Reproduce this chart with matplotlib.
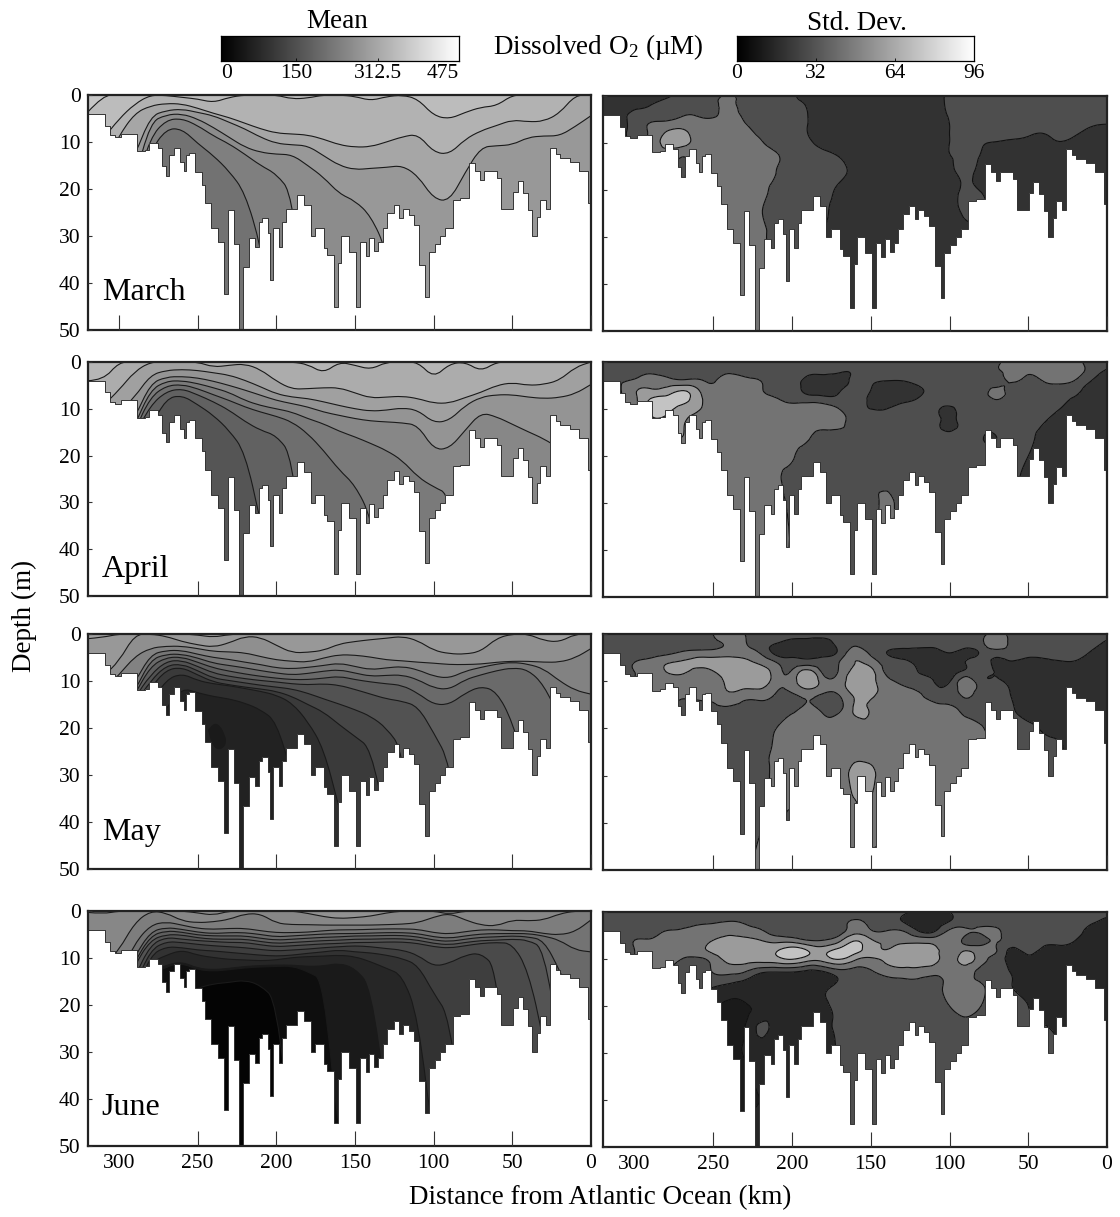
import numpy as np
import matplotlib
matplotlib.use("Agg")
import matplotlib.pyplot as plt
import matplotlib.tri as mtri
from matplotlib.path import Path
from matplotlib.patches import PathPatch

plt.rcParams["font.family"] = ["Liberation Serif", "DejaVu Serif"]
plt.rcParams["mathtext.fontset"] = "custom"
plt.rcParams["mathtext.rm"] = "Liberation Serif"
plt.rcParams["mathtext.default"] = "regular"

W, H = 1120, 1217
months = ["March", "April", "May", "June"]
month_label_depth = [43.6, 46, 43.8, 43.4]
x_ticks = [0, 50, 100, 150, 200, 250, 300]
y_ticks = [0, 10, 20, 30, 40, 50]

# section columns (km from the Atlantic) and depth rows for the std. dev. grids
station_km = [320, 310, 300, 290, 280, 270, 260, 250, 240, 230, 220, 210, 200, 190, 180, 170, 160,
              150, 140, 130, 120, 110, 100, 90, 80, 70, 60, 50, 40, 30, 20, 10, 0]
sd_depth = [0, 2, 4, 6, 8, 10, 13, 16, 20, 25, 30, 50]

# channel bed, step edges (km) and depth of each step (m)
bed_km = [320, 309, 305.9, 302.7, 298.5, 288.6, 283.7, 280.6, 275.3, 272.5, 270.4, 267.9, 265.1, 260.9,
          258.8, 257.3, 255.2, 251.6, 247.4, 245.1, 241.5, 237.3, 233.1, 230.5, 227.1, 223.6, 221, 217.6,
          213.4, 211.3, 209.2, 205.6, 204.1, 202, 198.6, 196.1, 194, 186.6, 182.4, 178.2, 175.4, 169.7,
          167.6, 163.4, 160.6, 158.8, 153.5, 149.3, 146.5, 143.3, 141.2, 137.8, 135.3, 132.4, 129.6,
          125.4, 122.2, 119.7, 115.9, 112.7, 109.1, 105.3, 103.2, 99.4, 95.8, 92.7, 88, 83.2, 77.5, 73.7,
          70.5, 67.8, 60, 57.2, 49.8, 46.7, 43.1, 39.9, 37.4, 34.6, 32.5, 28.7, 26.2, 22, 19.4, 13.5, 7.6,
          2, 0]
bed_depth = [4, 6.5, 8.5, 9, 8.2, 12, 11.7, 10.3, 11.3, 15.2, 17.2, 12.8, 11.3, 14.3, 16.2, 12.8, 12.4,
             16.3, 19.1, 23, 28.4, 31.2, 42.3, 24.5, 31.6, 50, 36.5, 30.5, 32.3, 27, 26.2, 29.4, 39.4,
             28.4, 32.3, 27, 24.3, 21.3, 23.4, 30.1, 28.4, 32.6, 34, 45.2, 35.8, 30.1, 33.3, 45.2, 31.3,
             34.3, 30.4, 33.2, 31.2, 28.4, 25.2, 23.3, 26.1, 24.3, 25.5, 27.7, 36.2, 42.9, 33.3, 31.6,
             30.1, 28.4, 22.3, 22, 14.5, 16.2, 18.1, 16.2, 17.7, 24.3, 20.6, 18.4, 20.9, 24.5, 30.1, 25.9,
             22.3, 24.3, 11.3, 12.6, 13.5, 14.3, 16.2, 23]

# mean O2: depth (m) of each isopleth at every station, shallowest isopleth first
march_iso = [
    [3.7] + [0] * 32,
    [12, 9.3, 5.1, 1.9, 0, .1, .5, .85, 1.6, .5, 0, 0, 0, .85, .65, 0, 0, .3, 1.2, .35, 0, .85, 4.4, 5.1, 3.7, 2.6, 2.3] + [0] * 6,
    [20, 15, 8.7, 3.9, 2.3, 1.8, 1.9, 2.8, 3.9, 4.8, 6, 7.2, 8.1, 8.3, 8.5, 9.4, 10.6, 11.1, 11, 10, 8.9, 8.3, 12.2, 12.6, 9.4, 7.6, 6.5, 5.3, 5.7, 5.6, 3.9, 0, 0],
    [25, 20, 18, 13, 4.5, 3.3, 3, 3.7, 4.4, 5.8, 7.2, 9, 10.3, 10.6, 10.8, 12.9, 15, 15.9, 15.6, 15.4, 15, 17.2, 22.1, 22.6, 16.5, 11.1, 10.8, 10.6, 9, 8.7, 8.7, 6.7, 4.4],
    [30, 25, 22, 18, 5.8, 4.2, 4, 5.1, 6.9, 9, 11.1, 12.2, 12.6, 12.7, 15, 17.5, 21, 22.5, 25.7, 33] + [50] * 13,
    [35, 30, 25, 20, 9, 5.3, 5, 6.5, 8.7, 10.4, 12.6, 15, 16.8, 21] + [50] * 19,
    [40, 35, 30, 25, 12, 7.2, 7.2, 10.3, 12.9, 16.2, 20.7, 32] + [50] * 21,
]
april_iso = [
    [4, 3.9] + [0] * 12 + [.5, 2.4, 0, .7, 1.6, 0, 0, 0, 3.4, .4, 0, 2] + [0] * 7,
    [12, 9.3, 6, 2, 0, 0, 0, 0, 1.1, .7, .4, 1.6, 4.1, 5.8, 5.7, 5.5, 5.5, 6.6, 7.7, 7.5, 7.3, 7.8, 8.8, 8.8, 7.6, 6.5, 5, 4.4, 5, 4.8, 3.9, 1.1, 0],
    [20, 16, 10.7, 7.5, 2.8, 1.8, 1.6, 1.8, 2.3, 2.8, 3.9, 5.3, 6.8, 7.5, 7.8, 8.5, 9.3, 10, 10.5, 10.3, 9.8, 10.3, 13, 12.5, 9.3, 7.5, 7, 7, 7.5, 7.8, 7.6, 6.8, 4.8],
    [25, 20, 16, 12, 4.6, 3.2, 3.1, 3.4, 4.1, 5, 6, 7.1, 8.2, 8.9, 9.6, 10.7, 11.4, 12.1, 12.6, 12.8, 13, 13.5, 18.7, 18.5, 14.6, 10.8, 11.7, 13.3, 14.9, 16.4, 18.5, 22, 25],
    [30, 25, 20, 13.5, 6, 4.1, 4, 4.6, 5.5, 6.5, 8.2, 9.3, 10, 10.7, 12.1, 13.2, 14.8, 16, 17.4, 18.9, 21, 24.6, 26.7, 28.3] + [50] * 9,
    [35, 30, 25, 14.6, 7.5, 5.1, 4.8, 5.7, 7, 8.2, 9.6, 10.7, 11.6, 12.8, 15.3, 18.9, 23.1, 26.3, 33] + [50] * 14,
    [40, 35, 30, 15.7, 9.3, 6.3, 5.7, 7, 8.5, 10.3, 12.7, 14.6, 15.7, 20] + [50] * 19,
    [45, 40, 35, 25, 14, 7.8, 7.1, 9.1, 11.4, 14.6, 19.2, 34] + [50] * 21,
]
may_iso = [
    [1, .7, 0, 0, 0, 0, 0, .2, .7, .1] + [0] * 19 + [1.4, 1.7, 0, 0],
    [10, 9, 5.8, .1, 0, .5, 1.6, 2.3, 2.8, 1.9, .5, .7, 2.4, 4, 3.9, 3.5, 2.1, 1.6, 1.2, .9, .5, 1.4, 3.5, 4.2, 4.3, 3.7, .9] + [0] * 6,
    [16, 12, 8.7, 4.8, 3, 2.6, 2.6, 3.1, 3.7, 3.8, 4, 4.8, 5.5, 5.8, 6, 5.1, 4.4, 4.5, 4.9, 5.5, 5.7, 6, 6.2, 6.5, 6.5, 6.4, 6, 5.8, 5.8, 6, 6, 5.1, 3.1],
    [20, 16, 14, 10.4, 4.4, 3.5, 3.5, 4.3, 5, 5.4, 6, 6.5, 7.2, 7.4, 7.1, 6.7, 6.2, 6.9, 7.6, 7.2, 6.9, 7.6, 9, 9.4, 7.9, 7.1, 6.4, 6, 6.4, 7.4, 10, 12, 12.8],
    [24, 20, 16, 12.2, 5.5, 4.3, 4.3, 5.1, 6.2, 6.7, 7.2, 7.8, 8.3, 8.7, 8.4, 7.9, 7.6, 8.3, 9, 8.8, 8.7, 9.7, 11.5, 11.8, 9.7, 8.7, 7.8, 7.2, 7.6, 10.8, 17.9, 25, 30],
    [28, 24, 18, 12.9, 6.9, 5, 4.9, 6, 7.2, 7.9, 8.5, 9, 9.4, 9.7, 9.7, 9.4, 9, 9.7, 10.2, 10.6, 10.9, 12.6, 15, 15, 12.6, 11.1, 12.2, 18.6, 30] + [50] * 4,
    [30, 26, 20, 13.6, 8.7, 5.8, 5.6, 6.9, 8.3, 9, 9.5, 9.9, 10.2, 10.6, 10.8, 10.6, 10.9, 11.8, 12.8, 13.8, 14.3, 15.4, 21, 27.2] + [50] * 9,
    [32, 28, 22, 15, 10, 6.7, 6.4, 7.8, 9.4, 9.9, 10.4, 10.9, 11.3, 11.7, 12.6, 13.8, 14.9, 16.1, 17.5, 20, 24.6] + [50] * 12,
    [34, 30, 24, 17, 11.5, 7.6, 7.1, 8.7, 10.2, 10.8, 11.3, 11.7, 12.2, 13.3, 15, 16.6, 19.3, 21.8, 24.3, 40.6] + [50] * 13,
    [36, 32, 26, 22, 15, 9.7, 8.4, 9.9, 10.6, 11, 11.6, 12.2, 13, 14.7, 18.6, 24.3, 37] + [50] * 16,
    [40, 36, 32, 28, 22, 15.7, 11.5, 12.5, 13.3, 13.8, 14.7, 16.1, 18.6, 30] + [50] * 19,
]
june_iso = [
    [.3, .6, 0, 0, 0, 0, 0, .4, .9, 0, 0, 0, 0, 0, .5, 1.2, 1.6, 1.4, 1.1, .4, 0, 0, 0, .7] + [0] * 9,
    [10, 12, 8.3, 2.5, 0, .4, 2.1, 2.5, 2.3, 1.8, .6, .6, 2.6, 2.9, 2.9, 3, 3, 3, 3, 2.9, 2.8, 2.5, 1.3, .5, 1.9, 3, 3.2, 1.9, 2.1, 1.9, .6, 0, 0],
    [18, 16, 14, 6.9, 3, 2.3, 3, 3.7, 3.9, 3.7, 3.7, 4.2, 4.6, 4.6, 4.5, 4.2, 4, 4, 3.9, 3.8, 3.8, 3.9, 4.6, 4.9, 4.4, 4, 4, 4.2, 4.2, 4.8, 5.1, 4.4, 1.9],
    [22, 20, 16, 9.7, 4.4, 3.5, 3.9, 4.5, 4.8, 4.6, 4.6, 5, 5.5, 5.3, 5.1, 4.9, 4.8, 4.8, 4.7, 4.6, 4.6, 4.8, 5.5, 5.8, 5.3, 4.9, 4.8, 4.8, 4.8, 5.3, 6.2, 8.3, 8.7],
    [24, 22, 18, 10.8, 5.3, 4.2, 4.5, 5.1, 5.3, 5.3, 5.3, 5.8, 6.2, 6, 5.8, 5.6, 5.5, 5.3, 5.3, 5.2, 5.2, 5.5, 6.2, 6.5, 6, 5.6, 5.5, 5.3, 5.5, 6.2, 12.6, 20, 25],
    [26, 24, 20, 11.5, 6.2, 5, 5.1, 5.7, 6, 6, 6, 6.5, 6.9, 6.7, 6.5, 6.3, 6.2, 6, 6, 5.9, 5.9, 6.2, 6.9, 7.2, 6.7, 6.3, 6.2, 6, 6.2, 7.9, 29] + [50] * 2,
    [28, 26, 22, 14, 7.2, 5.6, 6, 6.3, 6.5, 6.7, 6.7, 7.2, 7.6, 7.4, 7.2, 7, 6.9, 6.7, 6.7, 6.6, 6.6, 6.9, 7.6, 7.9, 7.4, 6.9, 6.7, 6.9, 12.6, 27.4] + [50] * 3,
    [30, 28, 24, 16, 8.3, 6.5, 6.7, 7.1, 7.4, 7.6, 7.8, 8.2, 8.5, 8.3, 8.1, 7.8, 7.6, 7.4, 7.6, 8, 8.3, 9.4, 11.8, 11.1, 9.4, 8.9, 12.2] + [50] * 6,
    [32, 30, 26, 18, 9.4, 7.6, 7.8, 8.3, 8.5, 8.8, 9.1, 9.4, 9.6, 9.4, 9, 8.7, 8.3, 8.7, 8.9, 9.4, 10.1, 11.5, 17.5, 22.5] + [50] * 9,
    [34, 32, 28, 20, 11, 9.4, 8.3, 9.4, 9.9, 10.3, 10.4, 10.6, 10.4, 9.9, 9.7, 9.6, 9.4, 9.7, 10.8, 12.2, 13.6, 22.5] + [50] * 11,
    [36, 34, 30, 22, 13, 11.5, 10.8, 12.2, 12.5, 12.2, 11.8, 11.6, 11.5, 11.5, 11.8, 11.7, 11.1, 12.2, 16.1, 40.6] + [50] * 13,
    [38, 36, 32, 24, 14, 11.8, 11.1, 12.5, 12.8, 12.5, 12.1, 11.9, 11.8, 11.7, 12.9, 14.7] + [50] * 17,
    [40, 38, 34, 28, 22, 20, 18, 16.4, 15.5, 15.2, 14.7, 15.8, 19] + [50] * 20,
]
mean_iso = [march_iso, april_iso, may_iso, june_iso]

# gray of each band, surface band first
mean_gray = [
    [198, 188, 178, 166, 152, 140, 127, 114],
    [182, 172, 160, 148, 135, 122, 110, 97, 85],
    [160, 152, 143, 130, 118, 106, 94, 82, 70, 58, 46, 34],
    [145, 135, 125, 115, 105, 95, 84, 74, 62, 50, 38, 26, 14, 4],
]

# closed pocket in the May mean section
may_pocket_km = [243, 240, 236, 233, 232, 234, 238, 241, 243]
may_pocket_depth = [20.5, 19, 19.5, 21.5, 23, 24.3, 24.5, 23, 20.5]

# std. dev. of O2 (uM) on station_km x sd_depth
sd_march = [
    [19, 19, 19, 19, 22, 28, 29, 31, 38, 30, 29, 29, 26, 19, 19, 19, 19, 19, 19, 19, 19, 20, 26] + [29] * 10,
    [19, 19, 21, 24, 28, 30, 31, 33, 39, 31, 29, 29, 28, 23, 19, 19, 19, 19, 19, 19, 19, 20, 26] + [29] * 10,
    [19, 20, 27, 29, 31, 35, 35, 34, 40, 33, 29, 29, 29, 24, 19, 19, 19, 19, 19, 19, 19, 20, 25, 29, 29, 29, 29, 29, 29, 29, 29, 29, 28],
    [19, 21, 28, 37, 40, 43, 43, 43, 43, 37, 30, 29, 29, 24, 19, 19, 19, 19, 19, 19, 19, 20, 24, 29, 29, 29, 29, 29, 29, 29, 28, 25, 24],
    [19, 21, 28, 38, 52, 56, 43, 43, 43, 41, 33, 29, 29, 24, 19, 19, 19, 19, 19, 19, 19, 20, 24, 29, 29, 29, 29, 26, 24, 28, 25, 22, 21],
    [19, 21, 28, 40, 54, 56, 44, 43, 43, 43, 38, 30, 29, 26, 21, 19, 19, 19, 19, 19, 19, 20, 24, 28, 25, 23, 21, 20, 21, 23, 21, 20, 19],
    [19, 21, 28, 40, 44, 36, 43, 43, 43, 43, 43, 38, 30, 29, 27, 24, 19, 19, 19, 19, 19, 20, 23, 28, 23] + [19] * 8,
    [19, 21, 28, 40, 44, 34, 43, 43, 43, 43, 43, 36, 30, 29, 29, 27, 21, 19, 19, 19, 19, 20, 21, 27, 21] + [19] * 8,
    [19, 21, 28, 40, 44, 36, 43, 43, 43, 43, 40, 32, 29, 29, 28, 22, 19, 19, 19, 19, 19, 19, 20, 26, 23] + [19] * 8,
    [19, 21, 28, 40, 44, 36, 43, 43, 43, 43, 37, 30, 29, 29, 26, 20, 19, 19, 19, 19, 19, 19, 20, 26, 28] + [19] * 8,
    [19, 21, 28, 40, 44, 36, 43, 43, 43, 43, 40, 30, 29, 29, 24, 19] + [19] * 17,
    [19, 21, 28, 40, 44, 36, 43, 43, 43, 43, 43, 30, 29, 29, 24, 19] + [19] * 17,
]
sd_april = [
    [29] * 25 + [33, 43, 42, 43, 43, 40, 30, 27],
    [29, 29, 31, 34, 31, 30, 30, 31, 34, 31, 29, 29, 29, 27, 27, 25, 25, 29, 29, 29, 29, 29, 29, 29, 29, 33, 41, 39, 41, 43, 42, 30, 23],
    [29, 34, 38, 43, 41, 38, 38, 35, 42, 40, 36, 29, 29, 20, 18, 19, 27, 26, 24, 24, 27, 29, 29, 29, 29, 29, 38, 31, 37, 40, 35, 24, 19],
    [29, 34, 48, 52, 55, 64, 52, 40, 43, 43, 38, 29, 29, 20, 19, 23, 29, 24, 19, 19, 22, 27, 29, 29, 29, 40, 29, 29, 29, 29, 27, 19, 17],
    [29, 34, 46, 66, 70, 70, 56, 43, 43, 43, 43, 38, 31, 31, 29, 27, 29, 22, 19, 21, 25, 29, 29, 29, 29, 36, 29, 29, 29, 27, 22, 19, 17],
    [29, 34, 46, 68, 70, 60, 52, 43, 43, 43, 43, 43, 43, 43, 43, 36, 29, 24, 24, 28, 29, 27, 22, 29, 29, 29, 29, 29, 29, 24, 19, 19, 17],
    [29, 34, 46, 60, 60, 52, 43, 43, 43, 43, 43, 43, 43, 43, 43, 41, 29, 29, 29, 29, 29, 28, 21, 29, 29, 29, 29, 29, 24, 19, 19, 19, 17],
    [29, 34, 46, 55, 50, 50] + [43] * 7 + [38] + [29] * 8 + [26, 29, 25, 24, 29, 27, 20, 19, 19, 19, 17],
    [29, 34, 46, 55, 50, 48] + [43] * 6 + [38] + [29] * 14 + [24, 19, 19, 19, 19, 17],
    [29, 34, 46, 55, 50, 48] + [43] * 5 + [40] + [29] * 14 + [28, 20, 19, 19, 19, 19, 17],
    [29, 34, 46, 55, 50, 48] + [43] * 6 + [31, 29, 29, 29, 29, 30, 40] + [29] * 7 + [26, 19, 19, 19, 19, 19, 17],
    [29, 34, 46, 55, 50, 48] + [43] * 5 + [38] + [29] * 14 + [26, 19, 19, 19, 19, 19, 17],
]
sd_may = [
    [29] * 7 + [36, 46, 36] + [29] * 14 + [30, 42, 30] + [29] * 6,
    [29, 29, 29, 29, 29, 29, 30, 33, 38, 37, 29, 24, 20, 19, 19, 28, 33, 29, 29, 29, 29, 29, 29, 29, 32, 46, 30, 29, 29, 29, 29, 27, 22],
    [29, 29, 30, 31, 33, 38, 41, 41, 43, 43, 35, 21, 19, 18, 19, 27, 43, 33, 24, 21, 19, 19, 24, 21, 25, 29, 29, 28, 28, 28, 28, 23, 19],
    [29, 29, 36, 40, 48, 52, 55, 57, 58, 54, 47, 36, 28, 29, 27, 36, 50, 44, 30, 27, 21, 19, 19, 24, 28, 22, 23, 20, 21, 23, 23, 19, 18],
    [29, 29, 36, 40, 50, 53, 45, 49, 58, 60, 57, 43, 38, 56, 32, 38, 55, 55, 33, 29, 24, 21, 20, 27, 29, 23, 19, 19, 19, 19, 19, 19, 18],
    [29, 29, 36, 40, 42, 42, 43, 43, 54, 57, 57, 43, 43, 60, 43, 43, 58, 55, 40, 33, 27, 24, 23, 42, 29, 26, 19, 19, 19, 19, 19, 19, 18],
    [29, 29, 36, 40, 40, 38, 40, 41, 47, 42, 42, 34, 33, 40, 33, 36, 52, 53, 43, 43, 38, 31, 29, 38, 29, 28, 23, 19, 19, 19, 19, 19, 18],
    [29, 29, 36, 40, 38, 30, 30, 33, 34, 30, 30, 31, 32, 40, 32, 33, 52, 48, 43, 43, 43, 43, 40, 33, 28, 28, 25, 19, 19, 19, 19, 19, 18],
    [29, 29, 36, 38, 34, 30, 29, 29, 29, 29, 29, 36] + [43] * 12 + [38, 29, 29, 27, 22, 19, 19, 19, 18],
    [29, 29, 36, 38, 34, 30, 29, 29, 29, 29, 29, 41] + [43] * 12 + [38, 29, 29, 29, 29, 25, 20, 19, 18],
    [29, 29, 36, 38, 34, 30, 29, 29, 29, 29, 29, 41, 43, 43, 43, 44, 54, 53] + [43] * 6 + [38] + [29] * 5 + [19, 19, 18],
    [29, 29, 36, 38, 34, 30, 29, 29, 29, 29, 46, 41, 29, 43, 43, 44, 52, 30] + [43] * 6 + [38] + [29] * 5 + [19, 19, 18],
]
sd_june = [
    [29] * 8 + [36] + [29] * 10 + [27, 19, 19, 24] + [29] * 10,
    [29, 29, 29, 29, 29, 29, 31, 34, 36, 34, 29, 29, 29, 29, 29, 30, 38, 32, 29, 24, 19, 19, 24, 29, 29, 29, 29, 29, 29, 29, 29, 26, 21],
    [29, 29, 30, 30, 36, 38, 43, 43, 45, 43, 38, 29, 29, 29, 29, 30, 44, 37, 36, 36, 24, 22, 38, 38, 38, 38, 29, 29, 29, 29, 28, 20, 18],
    [29, 29, 36, 37, 43, 43, 44, 50, 54, 53, 50, 45, 43, 36, 36, 46, 64, 52, 48, 47, 44, 43, 43, 33, 31, 37, 29, 29, 29, 29, 24, 19, 18],
    [29, 29, 36, 40, 43, 43, 44, 55, 57, 58, 59, 62, 72, 63, 58, 69, 70, 57, 50, 55, 58, 55, 43, 47, 43, 36, 22, 29, 20, 19, 19, 19, 18],
    [29, 29, 36, 40, 40, 36, 34, 42, 55, 56, 57, 60, 66, 57, 57, 66, 53, 48, 53, 58, 58, 57, 43, 56, 42, 31, 19, 21, 19, 19, 19, 19, 18],
    [29, 29, 36, 38, 36, 32, 30, 36, 38, 34, 24, 22, 22, 19, 21, 29, 29, 33, 40, 43, 43, 39, 43, 43, 31, 29, 23, 19, 19, 19, 19, 19, 18],
    [29, 29, 36, 38, 30, 29, 28, 24, 21, 19, 19, 19, 19, 19, 20, 29, 29, 29, 29, 29, 30, 30, 41, 43, 38, 29, 24, 19, 19, 19, 19, 19, 18],
    [29, 29, 36, 38, 30, 29, 26, 17, 11, 12, 18, 19, 19, 19, 20] + [29] * 7 + [36, 43, 36, 29, 28, 24, 19, 19, 19, 19, 18],
    [29, 29, 36, 38, 30, 29, 26, 17, 11, 14, 26, 19, 19, 19, 20, 27] + [29] * 11 + [28, 26, 21, 19, 19, 18],
    [29, 29, 36, 38, 30, 29, 26, 17, 11, 15, 19, 19, 19, 19, 20, 25] + [29] * 11 + [29, 29, 24, 19, 19, 18],
    [29, 29, 36, 38, 30, 29, 26, 17, 19, 19, 19, 19, 19, 19, 20, 25] + [29] * 11 + [29, 29, 24, 19, 19, 18],
]
sd_fields = [sd_march, sd_april, sd_may, sd_june]

sd_levels = [0, 14, 24, 36, 50, 65, 96]
sd_gray = [
    [30, 50, 78, 115, 155, 195],
    [30, 50, 78, 115, 155, 195],
    [30, 46, 78, 115, 155, 195],
    [26, 38, 78, 115, 155, 195],
]

mean_ticks = [0, 150, 312.5, 475]
mean_tick_labels = ["0", "150", "312.5", "475"]
sd_ticks = [0, 32, 64, 96]

# panel boxes in pixels: left, right, top, bottom
left_box = [(87.5, 591, 95, 330), (87.5, 591, 362, 596), (87.5, 591, 634, 869), (87.5, 591, 911, 1146)]
right_box = [(603, 1107, 96, 331), (603, 1107, 362, 597), (603, 1107, 634, 870), (603, 1107, 912, 1147)]


def gray(v):
    return (v / 255, v / 255, v / 255)


def add_box(fig, l, r, t, b):
    return fig.add_axes([l / W, 1 - b / H, (r - l) / W, (b - t) / H])


def curve_path(km, depth, close_top=False):
    # quadratic bezier through the midpoints, so isopleths come out rounded
    verts = [(km[0], depth[0])]
    codes = [Path.MOVETO]
    for j in range(1, len(km) - 1):
        verts += [(km[j], depth[j]), ((km[j] + km[j + 1]) / 2, (depth[j] + depth[j + 1]) / 2)]
        codes += [Path.CURVE3, Path.CURVE3]
    verts.append((km[-1], depth[-1]))
    codes.append(Path.LINETO)
    if close_top:
        verts += [(km[-1], 0), (km[0], 0), (km[0], depth[0])]
        codes += [Path.LINETO, Path.LINETO, Path.CLOSEPOLY]
    return Path(verts, codes)


def draw_bed(ax):
    x = np.repeat(bed_km, 2)[1:-1]
    y = np.repeat(bed_depth, 2)
    ax.fill_between(x, y, 50, color="white", lw=0, zorder=2.1)
    ax.plot(x, y, color="#333333", lw=0.7, zorder=2.2)


def style_panel(ax, show_x, ticks):
    ax.set_xlim(320, 0)
    ax.set_ylim(50, 0)
    ax.set_axisbelow(False)
    for s in ax.spines.values():
        s.set_linewidth(1.6)
        s.set_color("#222222")
    ax.set_xticks(ticks)
    ax.set_yticks(y_ticks)
    ax.tick_params(axis="x", direction="in", length=10.5, width=0.8, color="#333333", labelsize=15.5, pad=6,
                   labelbottom=show_x)
    ax.tick_params(axis="y", direction="in", length=3.2, width=0.8, color="#333333", labelsize=15.5, pad=5)


fig = plt.figure(figsize=(W / 100, H / 100), dpi=100)

for i, month in enumerate(months):
    # mean panel, painted from the deepest band up
    ax = add_box(fig, *left_box[i])
    iso = mean_iso[i]
    grays = mean_gray[i]
    ax.set_facecolor(gray(grays[-1]))
    for k in range(len(iso) - 1, -1, -1):
        ax.add_patch(PathPatch(curve_path(station_km, iso[k], True), fc=gray(grays[k]), ec="none", lw=0, zorder=1))
    for line in iso:
        ax.add_patch(PathPatch(curve_path(station_km, line), fc="none", ec="#1a1a1a", lw=0.8, zorder=1.5))
    if month == "May":
        ax.add_patch(PathPatch(curve_path(may_pocket_km, may_pocket_depth), fc=gray(26), ec="#1a1a1a", lw=0.8, zorder=1.6))
    draw_bed(ax)
    ticks = x_ticks if i == 0 else x_ticks[:-1]
    style_panel(ax, i == 3, ticks)
    if i == 3:
        ax.set_xticks(x_ticks)
        ax.xaxis.get_major_ticks()[-1].tick1line.set_visible(False)
        ax.xaxis.get_major_ticks()[0].tick1line.set_visible(False)
    ax.text(311, month_label_depth[i], month, fontsize=23, zorder=8, va="baseline")

    # std. dev. panel
    ax = add_box(fig, *right_box[i])
    field = np.array(sd_fields[i], dtype=float)
    km_grid, depth_grid = np.meshgrid(station_km, sd_depth)
    coarse = mtri.Triangulation(km_grid.ravel() / 10.0, depth_grid.ravel())
    fine, fine_z = mtri.UniformTriRefiner(coarse).refine_field(field.ravel(), subdiv=3)
    fine = mtri.Triangulation(fine.x * 10.0, fine.y, fine.triangles)
    ax.tricontourf(fine, fine_z, levels=sd_levels, colors=[gray(g) for g in sd_gray[i]], extend="neither", zorder=1)
    ax.tricontour(fine, fine_z, levels=sd_levels[1:-1], colors="#111111", linewidths=0.8, zorder=1.5)
    draw_bed(ax)
    style_panel(ax, i == 3, x_ticks[:-1])
    ax.set_yticklabels([])
    if i == 3:
        ax.set_xticks(x_ticks)
        ax.xaxis.get_major_ticks()[-1].tick1line.set_visible(False)
        ax.xaxis.get_major_ticks()[0].tick1line.set_visible(False)

# colour bars
ramp = np.linspace(0, 1, 256).reshape(1, -1)
for box, top, ticks, labels in [((221, 459, 36, 61), 475, mean_ticks, mean_tick_labels),
                                ((737, 974, 36, 61), 96, sd_ticks, [str(t) for t in sd_ticks])]:
    cax = add_box(fig, *box)
    cax.imshow(ramp, cmap="gray", aspect="auto", extent=[0, top, 0, 1])
    cax.set_yticks([])
    cax.set_xticks(ticks)
    cax.set_xticklabels(labels)
    cax.tick_params(axis="x", direction="in", length=2, width=0.6, labelsize=15.5, pad=2)
    for s in cax.spines.values():
        s.set_linewidth(0.9)
    if top == 475:
        cax.get_xticklabels()[0].set_ha("left")
        cax.get_xticklabels()[-1].set_ha("right")

fig.text(337 / W, 1 - 21 / H, "Mean", fontsize=19.5, ha="center", va="center")
fig.text(857 / W, 1 - 23 / H, "Std. Dev.", fontsize=19.5, ha="center", va="center")
fig.text(598 / W, 1 - 47 / H, "Dissolved O$_2$ (\u00b5M)", fontsize=19.5, ha="center", va="center")
fig.text(24 / W, 1 - 616 / H, "Depth (m)", fontsize=19.5, rotation=90, ha="center", va="center")
fig.text(600 / W, 1 - 1198 / H, "Distance from Atlantic Ocean (km)", fontsize=19.5, ha="center", va="center")

fig.savefig("out.png", dpi=100)
